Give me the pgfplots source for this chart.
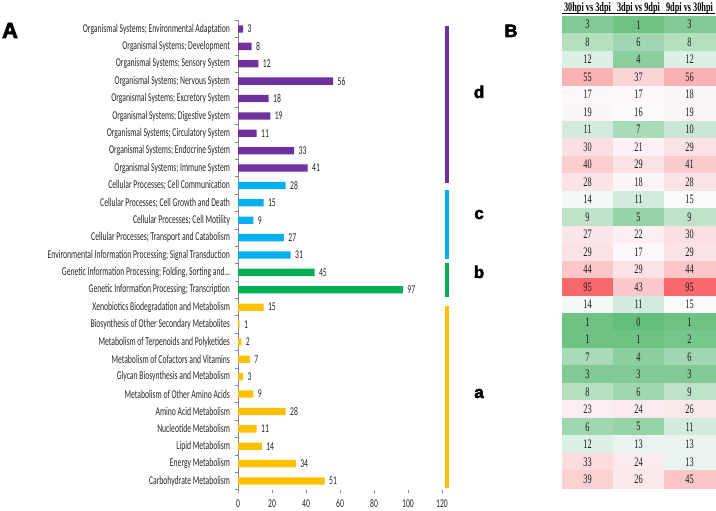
\documentclass[border=0pt]{standalone}
\usepackage{pgfplots}
\pgfplotsset{compat=1.18}
\usepackage{pgfplotstable}
\usepackage{fontspec}
\setmainfont{Carlito}
\newfontfamily\calf[FakeStretch=0.64]{Carlito}
\newfontfamily\tnr[FakeStretch=0.64]{Liberation Serif}
\newfontfamily\hvy[FakeBold=3]{Liberation Sans}
\definecolor{cpurple}{RGB}{112,48,160}
\definecolor{ccyan}{RGB}{0,176,240}
\definecolor{cgreen}{RGB}{0,176,80}
\definecolor{cyellow}{RGB}{255,192,0}
\definecolor{axgray}{RGB}{134,134,134}
\pgfplotsset{/pgf/number format/assume math mode=true}

\pgfplotstableread{
x y v
0 0 3
1 0 1
2 0 3
0 1 8
1 1 6
2 1 8
0 2 12
1 2 4
2 2 12
0 3 55
1 3 37
2 3 56
0 4 17
1 4 17
2 4 18
0 5 19
1 5 16
2 5 19
0 6 11
1 6 7
2 6 10
0 7 30
1 7 21
2 7 29
0 8 40
1 8 29
2 8 41
0 9 28
1 9 18
2 9 28
0 10 14
1 10 11
2 10 15
0 11 9
1 11 5
2 11 9
0 12 27
1 12 22
2 12 30
0 13 29
1 13 17
2 13 29
0 14 44
1 14 29
2 14 44
0 15 95
1 15 43
2 15 95
0 16 14
1 16 11
2 16 15
0 17 1
1 17 0
2 17 1
0 18 1
1 18 1
2 18 2
0 19 7
1 19 4
2 19 6
0 20 3
1 20 3
2 20 3
0 21 8
1 21 6
2 21 9
0 22 23
1 22 24
2 22 26
0 23 6
1 23 5
2 23 11
0 24 12
1 24 13
2 24 13
0 25 33
1 25 24
2 25 13
0 26 39
1 26 26
2 26 45
}\heattable

\begin{document}
\begin{tikzpicture}[x=1bp,y=1bp]
\path[use as bounding box] (0,0) rectangle (716,511);

% Panel A
\begin{axis}[
  at={(238bp,21.3bp)}, anchor=south west,
  scale only axis, width=204bp, height=469.4bp,
  xmin=0, xmax=120, ymin=-0.5, ymax=26.5, y dir=reverse,
  xbar, bar width=7.3bp, bar shift=0pt,
  axis x line*=bottom, axis y line*=left,
  x axis line style={draw=none},
  y axis line style={draw=axgray, line width=0.75bp},
  xtick={0,20,...,120},
  ytick={0,...,26},
  minor ytick={-0.5,0.5,...,26.5},
  tick align=outside,
  major tick length=3.5bp,
  minor tick length=3bp,
  every minor tick/.style={draw=axgray, line width=0.75bp},
  every major y tick/.style={draw=none},
  every major x tick/.style={draw=axgray, line width=0.75bp},
  tick label style={font=\calf\fontsize{12}{12}\selectfont, text=black!85},
  yticklabel style={xshift=-1bp},
  xticklabel style={yshift=-3bp},
  yticklabels={
    Organismal Systems; Environmental Adaptation,
    Organismal Systems; Development,
    Organismal Systems; Sensory System,
    Organismal Systems; Nervous System,
    Organismal Systems; Excretory System,
    Organismal Systems; Digestive System,
    Organismal Systems; Circulatory System,
    Organismal Systems; Endocrine System,
    Organismal Systems; Immune System,
    Cellular Processes; Cell Communication,
    Cellular Processes; Cell Growth and Death,
    Cellular Processes; Cell Motility,
    Cellular Processes; Transport and Catabolism,
    Environmental Information Processing; Signal Transduction,
    {Genetic Information Processing; Folding, Sorting and…},
    Genetic Information Processing; Transcription,
    Xenobiotics Biodegradation and Metabolism,
    Biosynthesis of Other Secondary Metabolites,
    Metabolism of Terpenoids and Polyketides,
    Metabolism of Cofactors and Vitamins,
    Glycan Biosynthesis and Metabolism,
    Metabolism of Other Amino Acids,
    Amino Acid Metabolism,
    Nucleotide Metabolism,
    Lipid Metabolism,
    Energy Metabolism,
    Carbohydrate Metabolism},
  nodes near coords,
  every node near coord/.append style={font=\calf\fontsize{12}{12}\selectfont, text=black!85, xshift=1bp},
  clip=false,
]
\addplot[draw=none, fill=cpurple] coordinates {(3,0) (8,1) (12,2) (56,3) (18,4) (19,5) (11,6) (33,7) (41,8)};
\addplot[draw=none, fill=ccyan] coordinates {(28,9) (15,10) (9,11) (27,12) (31,13)};
\addplot[draw=none, fill=cgreen] coordinates {(45,14) (97,15)};
\addplot[draw=none, fill=cyellow] coordinates {(15,16) (1,17) (2,18) (7,19) (3,20) (9,21) (28,22) (11,23) (14,24) (34,25) (51,26)};
\end{axis}

% group brackets
\draw[cpurple, line width=4bp] (447,485) -- (447,328);
\draw[ccyan, line width=4bp] (447,321) -- (447,252);
\draw[cgreen, line width=4bp] (447,248) -- (447,214);
\draw[cyellow, line width=4bp] (447,205) -- (447,23);
\node[font=\hvy\bfseries\fontsize{17}{17}\selectfont, anchor=base] at (479,413) {d};
\node[font=\hvy\bfseries\fontsize{17}{17}\selectfont, anchor=base] at (479,292) {c};
\node[font=\hvy\bfseries\fontsize{17}{17}\selectfont, anchor=base] at (479,233) {b};
\node[font=\hvy\bfseries\fontsize{17}{17}\selectfont, anchor=base] at (479,113) {a};

% panel letters
\node[font=\hvy\bfseries\fontsize{22}{22}\selectfont, anchor=base] at (10,473) {A};
\node[font=\hvy\bfseries\fontsize{18}{18}\selectfont, anchor=base] at (511,474) {B};

% Panel B heatmap
\begin{axis}[
  at={(562bp,23bp)}, anchor=south west,
  scale only axis, width=153bp, height=472bp,
  xmin=-0.5, xmax=2.5, ymin=-0.5, ymax=26.5, y dir=reverse,
  axis line style={draw=none},
  major tick length=0pt,
  ytick=\empty,
  xtick={0,1,2},
  xticklabels={30hpi vs 3dpi, 3dpi vs 9dpi, 9dpi vs 30hpi},
  xticklabel pos=top,
  xticklabel style={font=\tnr\bfseries\fontsize{13}{13}\selectfont, text=black, yshift=-2bp},
  colormap={heat}{rgb255(0cm)=(99,190,123); rgb255(15cm)=(252,252,255); rgb255(95cm)=(248,105,107)},
  point meta min=0, point meta max=95,
  clip=false,
]
\addplot[matrix plot*, mesh/cols=3, mesh/rows=27, point meta=explicit,
  nodes near coords={\pgfmathprintnumber{\pgfplotspointmeta}},
  every node near coord/.append style={anchor=center, text=black!90, font=\tnr\fontsize{13}{13}\selectfont}]
  table[x=x, y=y, meta=v] {\heattable};
\end{axis}
\draw[black, line width=0.8bp] (562,498) -- (715,498);
\end{tikzpicture}
\end{document}
